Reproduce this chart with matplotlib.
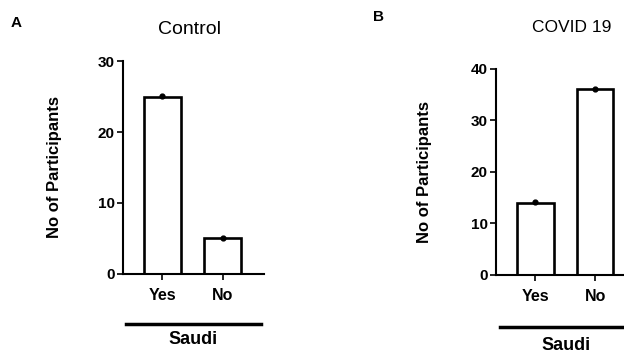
import matplotlib
matplotlib.use("Agg")
import matplotlib.pyplot as plt

plt.rcParams['font.family'] = ['Liberation Sans', 'DejaVu Sans']

categories = ['Yes', 'No']
control_counts = [25, 5]
covid_counts = [14, 36]
group_label = 'Saudi'


def draw_panel(ax, counts, ymax, yticks):
    x = list(range(len(categories)))
    ax.bar(x, counts, width=0.61, color='white', edgecolor='black', linewidth=1.9, zorder=2)
    ax.scatter(x, [c + 0.1 * ymax / 30 for c in counts], s=12, color='black', zorder=3, clip_on=False)
    ax.set_xlim(-0.653, 1.678)
    ax.set_ylim(0, ymax)
    ax.set_yticks(yticks)
    ax.set_xticks(x)
    ax.set_xticklabels(categories, fontweight='bold', fontsize=11.5)
    for lab in ax.get_yticklabels():
        lab.set_fontweight('bold')
        lab.set_fontsize(11)
    ax.spines['top'].set_visible(False)
    ax.spines['right'].set_visible(False)
    ax.spines['left'].set_linewidth(1.5)
    ax.spines['bottom'].set_linewidth(1.5)
    ax.tick_params(axis='both', width=1.2, length=4, pad=2)
    ax.tick_params(axis='x', pad=6)
    ax.set_ylabel('No of Participants', fontweight='bold', fontsize=12)


fig = plt.figure(figsize=(6.24, 3.53), dpi=100)

ax_a = fig.add_axes([0.197, 0.224, 0.226, 0.603])
draw_panel(ax_a, control_counts, 30, [0, 10, 20, 30])
ax_a.plot([0.02, 0.98], [-0.235, -0.235], transform=ax_a.transAxes, color='black', lw=2.5, clip_on=False)
ax_a.text(0.5, -0.31, group_label, transform=ax_a.transAxes, ha='center', va='center', fontweight='bold', fontsize=13)
ax_a.yaxis.set_label_coords(-0.43, 0.5)

ax_b = fig.add_axes([0.795, 0.221, 0.224, 0.584])
draw_panel(ax_b, covid_counts, 40, [0, 10, 20, 30, 40])
ax_b.plot([0.03, 0.98], [-0.252, -0.252], transform=ax_b.transAxes, color='black', lw=2.5, clip_on=False)
ax_b.text(0.5, -0.34, group_label, transform=ax_b.transAxes, ha='center', va='center', fontweight='bold', fontsize=13)
ax_b.yaxis.set_label_coords(-0.46, 0.5)

fig.text(190 / 624, 1 - 30 / 353, 'Control', fontsize=14, ha='center', va='center')
fig.text(572 / 624, 1 - 27 / 353, 'COVID 19', fontsize=12.5, ha='center', va='center')
fig.text(16 / 624, 1 - 23 / 353, 'A', fontweight='bold', fontsize=11, ha='center', va='center')
fig.text(379 / 624, 1 - 17 / 353, 'B', fontweight='bold', fontsize=11, ha='center', va='center')

fig.savefig('out.png', dpi=100)
